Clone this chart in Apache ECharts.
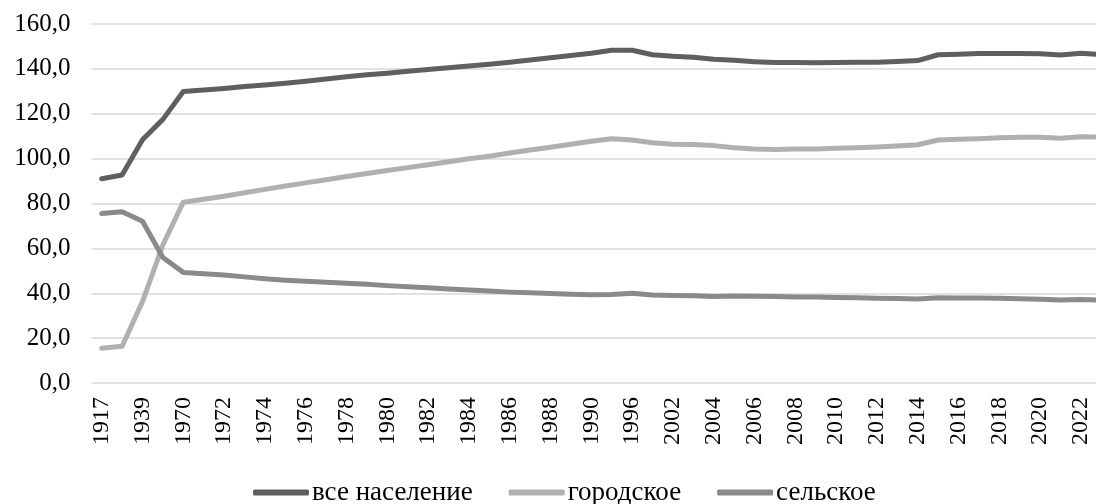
<!DOCTYPE html>
<html><head><meta charset="utf-8">
<script src="https://cdn.jsdelivr.net/npm/echarts@6/dist/echarts.min.js"></script>
<style>html,body{margin:0;padding:0;background:#fff}#c{width:1096px;height:504px}</style>
</head><body><div id="c"></div>
<script>
const years = ['1917','1926','1939','1959','1970','1971','1972','1973','1974','1975','1976','1977','1978','1979','1980','1981','1982','1983','1984','1985','1986','1987','1988','1989','1990','1991','1996','2001','2002','2003','2004','2005','2006','2007','2008','2009','2010','2011','2012','2013','2014','2015','2016','2017','2018','2019','2020','2021','2022','2023'];
const total = [91.0,92.7,108.4,117.5,129.9,130.6,131.3,132.1,132.8,133.6,134.5,135.5,136.5,137.4,138.1,138.9,139.7,140.5,141.3,142.1,143.0,144.0,145.0,146.0,147.0,148.3,148.3,146.3,145.6,145.2,144.3,143.8,143.2,142.8,142.8,142.7,142.8,142.9,143.0,143.3,143.7,146.3,146.5,146.8,146.9,146.8,146.7,146.2,147.0,146.4];
const urban = [15.5,16.4,36.3,61.6,80.6,81.9,83.2,84.8,86.3,87.8,89.2,90.6,92.0,93.4,94.7,96.0,97.3,98.6,99.9,101.1,102.5,103.8,105.1,106.4,107.7,108.9,108.3,107.1,106.4,106.3,105.8,104.8,104.3,104.1,104.3,104.3,104.6,104.9,105.2,105.6,106.2,108.3,108.6,108.9,109.3,109.5,109.5,109.1,109.8,109.6];
const rural = [75.5,76.3,72.1,55.9,49.3,48.7,48.1,47.3,46.5,45.8,45.3,44.9,44.5,44.0,43.4,42.9,42.4,41.9,41.4,41.0,40.5,40.2,39.9,39.6,39.3,39.4,40.0,39.2,39.0,38.9,38.5,38.8,38.7,38.5,38.3,38.3,38.1,38.0,37.8,37.7,37.4,38.0,37.9,37.9,37.8,37.5,37.3,37.0,37.2,36.9];
const seriesNames = ['все население','городское','сельское'];
const colors = ['#5f5f5f','#b0b0b0','#8a8a8a'];

const chart = echarts.init(document.getElementById('c'));
const font = '"Liberation Serif","Times New Roman",serif';
chart.setOption({
  animation:false,
  grid:{left:91.5, top:24, height:359, width:1020, outerBoundsMode:'none', containLabel:false},
  legend:{
    top:474, left:248, itemGap:36, itemWidth:56, itemHeight:6, icon:'roundRect',
    textStyle:{fontFamily:font, fontSize:27, color:'#000', padding:[0,0,0,-2]},
    data:seriesNames
  },
  xAxis:{
    type:'category', data:years, boundaryGap:true,
    axisLine:{show:false}, axisTick:{show:false},
    axisLabel:{rotate:90, interval:1, fontFamily:font, fontSize:24, color:'#000', margin:14}
  },
  yAxis:{
    type:'value', min:0, max:160, interval:20,
    axisLine:{show:false}, axisTick:{show:false},
    splitLine:{lineStyle:{color:'#d9d9d9', width:1.5}},
    axisLabel:{fontFamily:font, fontSize:25, color:'#000', margin:21,
      formatter:v=>v.toFixed(1).replace('.',',')}
  },
  series:[total,urban,rural].map((d,i)=>({
    name:seriesNames[i], type:'line', data:d, showSymbol:false, symbol:'none',
    itemStyle:{color:colors[i]},
    lineStyle:{color:colors[i], width:5, join:'round', cap:'round'}
  }))
});
</script></body></html>
